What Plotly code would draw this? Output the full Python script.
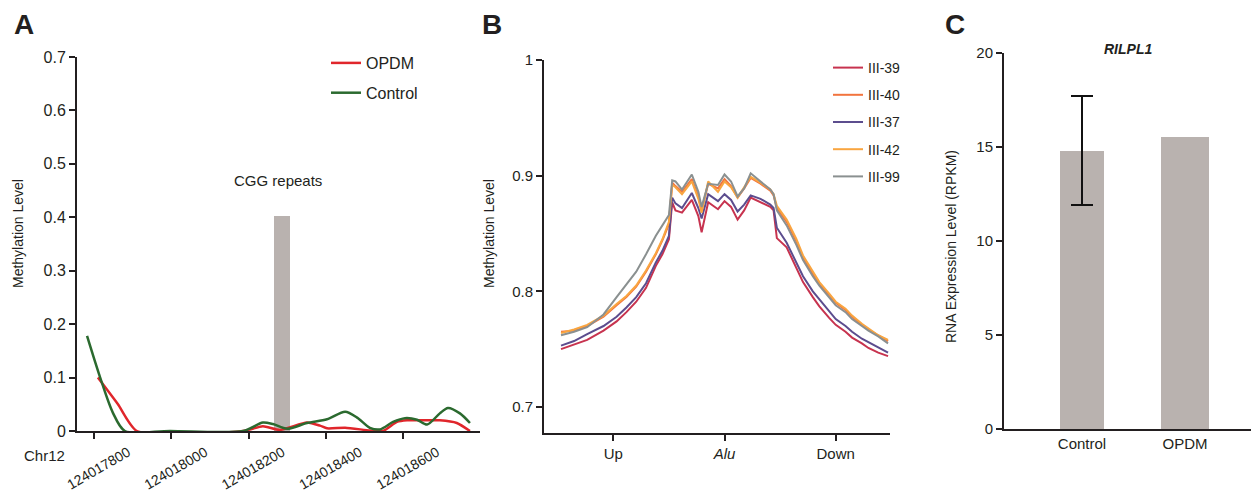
import plotly.graph_objects as go

FONT = "Liberation Sans, Arial, sans-serif"
W, H = 1251, 494

# ---------------- Panel A data ----------------
a_control_pos = [124017782, 124017816, 124017849, 124017880, 124017997, 124018186,
                 124018237, 124018263, 124018300, 124018351, 124018403, 124018450,
                 124018481, 124018514, 124018540, 124018574, 124018605, 124018636,
                 124018662, 124018695, 124018716, 124018747, 124018773]
a_control_val = [0.178, 0.100, 0.034, 0.0, 0.0, 0.0,
                 0.016, 0.013, 0.004, 0.015, 0.022, 0.036,
                 0.025, 0.006, 0.003, 0.017, 0.024, 0.021,
                 0.012, 0.033, 0.043, 0.033, 0.015]
a_opdm_pos = [124017810, 124017862, 124017911, 124018186, 124018237, 124018281,
              124018351, 124018385, 124018403, 124018450, 124018514, 124018548,
              124018584, 124018610, 124018670, 124018695, 124018739, 124018773]
a_opdm_val = [0.100, 0.050, 0.0, 0.0, 0.009, 0.002,
              0.016, 0.010, 0.005, 0.006, 0.001, 0.0,
              0.017, 0.020, 0.020, 0.020, 0.015, 0.0]
cgg_pos = [124018286]
cgg_width = [41]
cgg_val = [0.403]
a_xticks = [124017800, 124018000, 124018200, 124018400, 124018600]
a_xticklabels = ["124017800", "124018000", "124018200", "124018400", "124018600"]

# ---------------- Panel B data ----------------
b_pos = [0, 4, 8, 13, 17, 20, 23, 26, 29, 31, 33, 34, 35, 37, 40, 42, 43, 45, 48, 50,
         52, 54, 56, 58, 61, 64, 65, 66, 69, 72, 74, 77, 79, 82, 84, 87, 89, 92, 94, 97, 100]
b_iii39 = [0.750, 0.754, 0.758, 0.766, 0.774, 0.782, 0.791, 0.803, 0.822, 0.832, 0.845,
           0.877, 0.870, 0.868, 0.879, 0.865, 0.851, 0.877, 0.871, 0.878, 0.873, 0.862,
           0.870, 0.881, 0.877, 0.873, 0.870, 0.846, 0.838, 0.820, 0.808, 0.795, 0.787,
           0.777, 0.771, 0.765, 0.760, 0.755, 0.751, 0.747, 0.744]
b_iii40 = [0.765, 0.766, 0.770, 0.778, 0.788, 0.795, 0.804, 0.817, 0.832, 0.844, 0.858,
           0.894, 0.891, 0.886, 0.897, 0.882, 0.870, 0.893, 0.889, 0.897, 0.891, 0.881,
           0.889, 0.898, 0.893, 0.887, 0.883, 0.872, 0.860, 0.843, 0.829, 0.815, 0.806,
           0.797, 0.790, 0.784, 0.778, 0.771, 0.767, 0.762, 0.757]
b_iii37 = [0.753, 0.757, 0.763, 0.770, 0.778, 0.786, 0.795, 0.807, 0.825, 0.835, 0.848,
           0.881, 0.876, 0.872, 0.885, 0.872, 0.863, 0.884, 0.878, 0.884, 0.879, 0.869,
           0.875, 0.883, 0.880, 0.875, 0.872, 0.855, 0.842, 0.825, 0.813, 0.800, 0.793,
           0.783, 0.776, 0.770, 0.765, 0.759, 0.756, 0.751, 0.747]
b_iii42 = [0.764, 0.767, 0.771, 0.779, 0.789, 0.796, 0.805, 0.818, 0.833, 0.845, 0.860,
           0.892, 0.890, 0.884, 0.895, 0.880, 0.868, 0.895, 0.886, 0.895, 0.890, 0.881,
           0.890, 0.899, 0.894, 0.888, 0.884, 0.874, 0.862, 0.845, 0.831, 0.817, 0.808,
           0.798, 0.791, 0.785, 0.779, 0.772, 0.768, 0.762, 0.758]
b_iii99 = [0.762, 0.765, 0.769, 0.780, 0.795, 0.806, 0.817, 0.832, 0.848, 0.857, 0.866,
           0.896, 0.895, 0.888, 0.901, 0.886, 0.873, 0.893, 0.892, 0.901, 0.895, 0.882,
           0.889, 0.902, 0.895, 0.888, 0.884, 0.870, 0.857, 0.840, 0.827, 0.813, 0.805,
           0.795, 0.788, 0.782, 0.776, 0.770, 0.766, 0.761, 0.755]
b_tickvals = [16, 50, 84]
b_ticklabels = ["Up", "<i>Alu</i>", "Down"]

# ---------------- Panel C data ----------------
c_groups = ["Control", "OPDM"]
c_values = [14.8, 15.55]
c_err = [2.9]

# ---------------- Styles ----------------
axis_color = "#231F20"
bar_gray = "#B9B2AF"
b_series = [("III-39", b_iii39, "#C7334F"),
            ("III-40", b_iii40, "#F2743E"),
            ("III-37", b_iii37, "#5C4D8E"),
            ("III-42", b_iii42, "#F9A540"),
            ("III-99", b_iii99, "#8A9090")]

fig = go.Figure()

# Panel A
fig.add_trace(go.Bar(x=cgg_pos, y=cgg_val, width=cgg_width, marker=dict(color=bar_gray, line=dict(width=0)),
                     showlegend=False, xaxis="x", yaxis="y", hoverinfo="skip"))
fig.add_trace(go.Scatter(x=a_opdm_pos, y=a_opdm_val, mode="lines", name="OPDM",
                         line=dict(color="#E0262B", width=2.5, shape="spline", smoothing=0.6),
                         xaxis="x", yaxis="y", legend="legend", legendgroup="a1"))
fig.add_trace(go.Scatter(x=a_control_pos, y=a_control_val, mode="lines", name="Control",
                         line=dict(color="#2B6A2F", width=2.5, shape="spline", smoothing=0.8),
                         xaxis="x", yaxis="y", legend="legend", legendgroup="a2"))

# Panel B
for i, (nm, vals, col) in enumerate(b_series):
    fig.add_trace(go.Scatter(x=b_pos, y=vals, mode="lines", name=nm,
                             line=dict(color=col, width=2),
                             xaxis="x2", yaxis="y2", legend="legend2", legendgroup="b%d" % i))

# Panel C
fig.add_trace(go.Bar(x=[c_groups[0]], y=[c_values[0]], width=0.43,
                     marker=dict(color=bar_gray, line=dict(width=0)),
                     error_y=dict(type="data", array=c_err, color="#111111", thickness=2, width=11),
                     showlegend=False, xaxis="x3", yaxis="y3"))
fig.add_trace(go.Bar(x=[c_groups[1]], y=[c_values[1]], width=0.46,
                     marker=dict(color=bar_gray, line=dict(width=0)),
                     showlegend=False, xaxis="x3", yaxis="y3"))

common_axis = dict(showline=True, linecolor=axis_color, linewidth=2, ticks="outside",
                   tickcolor=axis_color, tickwidth=2, ticklen=6, showgrid=False, zeroline=False,
                   automargin=False,
                   tickfont=dict(family=FONT, size=15, color="#231F20"))

def px_x(p):
    return p / W

def px_y(p):
    return 1 - p / H

fig.update_layout(
    template="none",
    width=W, height=H, margin=dict(l=0, r=0, t=0, b=0, autoexpand=False),
    paper_bgcolor="white", plot_bgcolor="white",
    font=dict(family=FONT, color="#231F20"),
    bargap=0, barmode="overlay",
    xaxis=dict(common_axis, domain=[px_x(77), px_x(480)], anchor="y",
               range=[124017756, 124018799], tickvals=a_xticks, ticktext=a_xticklabels,
               tickangle=-30, ticklabelshift=34, ticklabelstandoff=0,
               tickfont=dict(family=FONT, size=14, color="#231F20")),
    yaxis=dict(common_axis, domain=[px_y(431), px_y(57)], anchor="x",
               range=[0, 0.7], tickvals=[0, 0.1, 0.2, 0.3, 0.4, 0.5, 0.6, 0.7],
               tickfont=dict(family=FONT, size=16, color="#231F20")),
    xaxis2=dict(common_axis, domain=[px_x(544), px_x(890)], anchor="y2",
                range=[-5.2, 100.6], tickvals=b_tickvals, ticktext=b_ticklabels,
                tickfont=dict(family=FONT, size=15, color="#231F20")),
    yaxis2=dict(common_axis, domain=[px_y(433), px_y(60)], anchor="x2",
                range=[0.6775, 1.0], tickvals=[0.7, 0.8, 0.9, 1.0]),
    xaxis3=dict(common_axis, domain=[px_x(1004), 1.0], anchor="y3",
                range=[-0.757, 1.64], ticks="", tickfont=dict(family=FONT, size=15, color="#231F20")),
    yaxis3=dict(common_axis, domain=[px_y(429), px_y(53)], anchor="x3",
                range=[0, 20], tickvals=[0, 5, 10, 15, 20]),
    legend=dict(x=px_x(326), y=px_y(46), xanchor="left", yanchor="top",
                font=dict(family=FONT, size=16, color="#231F20"), bgcolor="rgba(0,0,0,0)",
                tracegroupgap=6, itemwidth=30),
    legend2=dict(x=px_x(828), y=px_y(52), xanchor="left", yanchor="top",
                 font=dict(family=FONT, size=14, color="#231F20"), bgcolor="rgba(0,0,0,0)",
                 tracegroupgap=6, itemwidth=30),
    showlegend=True,
)

ann = [
    dict(text="<b>A</b>", x=px_x(24), y=px_y(25), font=dict(size=28)),
    dict(text="<b>B</b>", x=px_x(492), y=px_y(25), font=dict(size=28)),
    dict(text="<b>C</b>", x=px_x(955), y=px_y(25), font=dict(size=28)),
    dict(text="Methylation Level", x=px_x(18), y=px_y(234), textangle=-90, font=dict(size=14)),
    dict(text="Methylation Level", x=px_x(489), y=px_y(234), textangle=-90, font=dict(size=14)),
    dict(text="RNA Expression Level (RPKM)", x=px_x(951), y=px_y(247), textangle=-90, font=dict(size=14)),
    dict(text="<b><i>RILPL1</i></b>", x=px_x(1128), y=px_y(49), font=dict(size=14)),
    dict(text="Chr12", x=px_x(44), y=px_y(455), font=dict(size=15)),
    dict(text="CGG repeats", x=px_x(278), y=px_y(181), font=dict(size=15)),
]
for a in ann:
    a.update(xref="paper", yref="paper", showarrow=False, xanchor="center", yanchor="middle")
    a["font"] = dict(family=FONT, color="#231F20", **a["font"])
    fig.add_annotation(**a)

fig.write_html("out.html", config={"displayModeBar": False},
               post_script="document.body.style.margin='0';document.body.style.overflow='hidden';")
